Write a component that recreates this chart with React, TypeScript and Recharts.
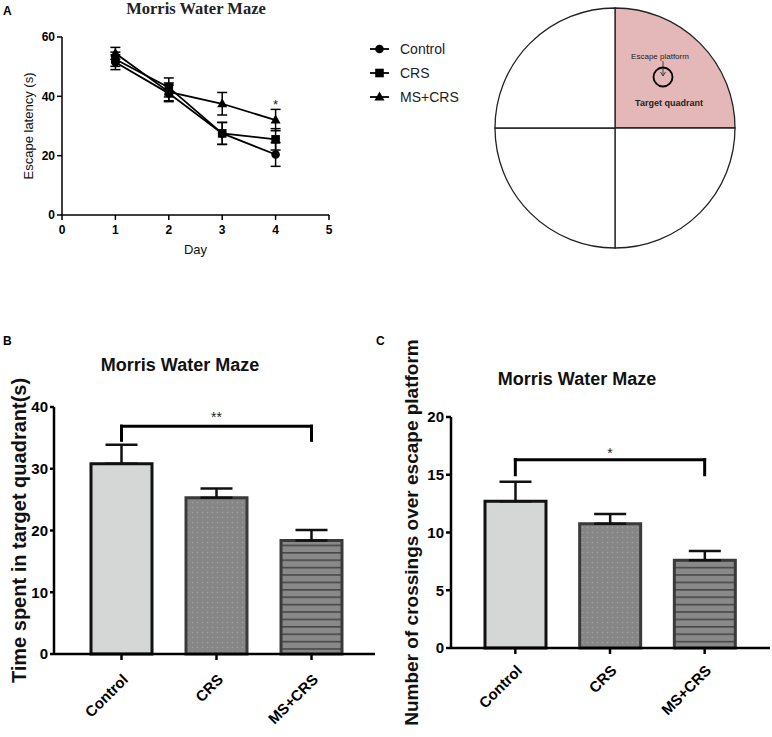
import React from 'react';
import {
  LineChart,
  Line,
  XAxis,
  YAxis,
  ErrorBar,
  Legend,
  ReferenceDot,
  ReferenceLine,
  PieChart,
  Pie,
  Cell,
  BarChart,
  Bar,
} from 'recharts';

// Panel A: escape latency (s) per training day, mean and SEM
const days = [1, 2, 3, 4];
const controlLatency = [51.5, 41, 27.5, 20.4];
const controlSem = [2.5, 2.8, 3.7, 4.0];
const crsLatency = [52.5, 43, 27.5, 25.5];
const crsSem = [2.4, 3.2, 3.7, 3.6];
const msCrsLatency = [54.5, 41.5, 37.5, 32];
const msCrsSem = [2.0, 3.0, 3.8, 3.6];
const dayTicks = [0, 1, 2, 3, 4, 5];
const latencyTicks = [0, 20, 40, 60];
const seriesOrder = ['control', 'crs', 'msCrs'];

// Pool diagram, clockwise from the top-right quadrant
const quadrants = ['Target quadrant', 'Quadrant 2', 'Quadrant 3', 'Quadrant 4'];
const quadrantFills = ['#e4b8b8', '#ffffff', '#ffffff', '#ffffff'];

// Panels B and C: probe trial
const groups = ['Control', 'CRS', 'MS+CRS'];
const timeInTarget = [30.8, 25.3, 18.4];
const timeInTargetSem = [3.1, 1.5, 1.7];
const timeTicks = [0, 10, 20, 30, 40];
const crossings = [12.7, 10.75, 7.6];
const crossingsSem = [1.7, 0.85, 0.8];
const crossingTicks = [0, 5, 10, 15, 20];

const barFills = ['#d5d7d7', 'url(#pat-dots)', 'url(#pat-stripes)'];
const barStrokes = ['#111111', '#3a3a3a', '#3a3a3a'];

const font = "'Liberation Sans', Arial, Helvetica, sans-serif";

const latencyData = days.map((d, i) => ({
  day: d,
  control: controlLatency[i],
  controlErr: controlSem[i],
  crs: crsLatency[i],
  crsErr: crsSem[i],
  msCrs: msCrsLatency[i],
  msCrsErr: msCrsSem[i],
}));

const quadrantData = quadrants.map((q) => ({ name: q, value: 1 }));

const marker = (key: string, cx: number, cy: number) => {
  if (key === 'control') return <circle cx={cx} cy={cy} r={4.3} fill="#000" />;
  if (key === 'crs') return <rect x={cx - 4.3} y={cy - 4.3} width={8.6} height={8.6} fill="#000" />;
  return <polygon points={`${cx},${cy - 5.5} ${cx + 5},${cy + 3.5} ${cx - 5},${cy + 3.5}`} fill="#000" />;
};

const dotFor = (key: string) => (p: any) => <g key={`${key}-${p.index}`}>{marker(key, p.cx, p.cy)}</g>;

const renderLegend = ({ payload }: any) => {
  const items = [...(payload || [])].sort(
    (a: any, b: any) => seriesOrder.indexOf(a.dataKey) - seriesOrder.indexOf(b.dataKey)
  );
  return (
    <div>
      {items.map((entry: any) => (
        <div key={entry.value} style={{ display: 'flex', alignItems: 'center', height: 24 }}>
          <svg width={32} height={24}>
            <line x1={2} y1={12} x2={21} y2={12} stroke="#000" strokeWidth={1.8} />
            {marker(entry.dataKey, 11.5, 12)}
          </svg>
          <span style={{ fontSize: 14, color: '#222', fontFamily: font }}>{entry.value}</span>
        </div>
      ))}
    </div>
  );
};

const LatencyPanel = () => (
  <LineChart
    width={470}
    height={265}
    data={latencyData}
    margin={{ top: 37, right: 141, bottom: 0, left: 22 }}
  >
    <XAxis
      dataKey="day"
      type="number"
      domain={[0, 5]}
      ticks={dayTicks}
      height={50}
      stroke="#000"
      strokeWidth={1.5}
      tickSize={5}
      tickMargin={5}
      tick={{ fontSize: 12, fontWeight: 700, fill: '#000' }}
      label={{ value: 'Day', position: 'insideBottom', offset: 11, fontSize: 13, fill: '#111' }}
    />
    <YAxis
      domain={[0, 60]}
      ticks={latencyTicks}
      width={40}
      stroke="#000"
      strokeWidth={1.5}
      tickSize={5}
      tickMargin={2}
      tick={{ fontSize: 12, fontWeight: 700, fill: '#000' }}
      label={{
        value: 'Escape latency (s)',
        angle: -90,
        position: 'insideLeft',
        offset: 6,
        textAnchor: 'middle',
        style: { textAnchor: 'middle' },
        fontSize: 13,
        fill: '#111',
      }}
    />
    <Line dataKey="control" name="Control" stroke="#000" strokeWidth={1.8} dot={dotFor('control')} isAnimationActive={false}>
      <ErrorBar dataKey="controlErr" direction="y" width={5} stroke="#000" strokeWidth={1.5} />
    </Line>
    <Line dataKey="crs" name="CRS" stroke="#000" strokeWidth={1.8} dot={dotFor('crs')} isAnimationActive={false}>
      <ErrorBar dataKey="crsErr" direction="y" width={5} stroke="#000" strokeWidth={1.5} />
    </Line>
    <Line dataKey="msCrs" name="MS+CRS" stroke="#000" strokeWidth={1.8} dot={dotFor('msCrs')} isAnimationActive={false}>
      <ErrorBar dataKey="msCrsErr" direction="y" width={5} stroke="#000" strokeWidth={1.5} />
    </Line>
    <ReferenceDot x={4} y={37.2} r={0} stroke="none" label={{ value: '*', position: 'center', fontSize: 13, fill: '#222' }} />
    <Legend
      layout="vertical"
      align="center"
      verticalAlign="middle"
      content={renderLegend}
      wrapperStyle={{ left: 368, top: 37, width: 110 }}
    />
  </LineChart>
);

const PoolPanel = () => (
  <PieChart width={250} height={250} margin={{ top: 0, right: 0, bottom: 0, left: 0 }}>
    <Pie
      data={quadrantData}
      dataKey="value"
      nameKey="name"
      cx={125}
      cy={125}
      outerRadius={120}
      startAngle={90}
      endAngle={-270}
      stroke="#222"
      strokeWidth={1.3}
      isAnimationActive={false}
    >
      {quadrantData.map((q, i) => (
        <Cell key={q.name} fill={quadrantFills[i]} />
      ))}
    </Pie>
  </PieChart>
);

interface BarPanelProps {
  values: number[];
  sems: number[];
  ticks: number[];
  yLabel: string;
  yLabelSize: number;
  sigTop: number;
  sigLeg: number;
  sigY: number;
  sigText: string;
  width: number;
  margin: { top: number; right: number; bottom: number; left: number };
  xHeight: number;
  xTickMargin: number;
  yWidth: number;
  labelOffset: number;
  padding: { left: number; right: number };
  yTickSize: number;
}

const BarPanel = (p: BarPanelProps) => {
  const data = groups.map((g, i) => ({ group: g, value: p.values[i], err: [0, p.sems[i]] }));
  const max = p.ticks[p.ticks.length - 1];
  const bracket = { stroke: '#000', strokeWidth: 3, strokeLinecap: 'square' as const };
  return (
    <BarChart width={p.width} height={407} data={data} margin={p.margin}>
      <defs>
        <pattern id="pat-dots" width={5} height={5} patternUnits="userSpaceOnUse">
          <rect width={5} height={5} fill="#868686" />
          <circle cx={2.5} cy={2.5} r={0.8} fill="#a2a2a2" />
        </pattern>
        <pattern id="pat-stripes" width={8} height={7.4} patternUnits="userSpaceOnUse">
          <rect width={8} height={7.4} fill="#898989" />
          <rect y={0} width={8} height={1.6} fill="#474747" />
        </pattern>
      </defs>
      <XAxis
        dataKey="group"
        height={p.xHeight}
        padding={p.padding}
        stroke="#000"
        strokeWidth={2.5}
        tickSize={6}
        tickMargin={p.xTickMargin}
        angle={-45}
        interval={0}
        tick={{ fontSize: 15, fontWeight: 700, fill: '#000', textAnchor: 'end', angle: -45 }}
      />
      <YAxis
        domain={[0, max]}
        ticks={p.ticks}
        width={p.yWidth}
        stroke="#000"
        strokeWidth={2.5}
        tickSize={p.yTickSize}
        tickMargin={2}
        tick={{ fontSize: 15, fontWeight: 700, fill: '#000' }}
        label={{
          value: p.yLabel,
          angle: -90,
          position: 'insideLeft',
          offset: p.labelOffset,
          textAnchor: 'middle',
          style: { textAnchor: 'middle' },
          fontSize: p.yLabelSize,
          fontWeight: 700,
          fill: '#111',
        }}
      />
      <Bar dataKey="value" barSize={61} isAnimationActive={false}>
        {data.map((d, i) => (
          <Cell key={d.group} fill={barFills[i]} stroke={barStrokes[i]} strokeWidth={3} />
        ))}
        <ErrorBar dataKey="err" direction="y" width={16} stroke="#111" strokeWidth={2.5} />
      </Bar>
      <ReferenceLine segment={[{ x: groups[0], y: p.sigTop }, { x: groups[2], y: p.sigTop }]} {...bracket} />
      <ReferenceLine segment={[{ x: groups[0], y: p.sigTop }, { x: groups[0], y: p.sigLeg }]} {...bracket} />
      <ReferenceLine segment={[{ x: groups[2], y: p.sigTop }, { x: groups[2], y: p.sigLeg }]} {...bracket} />
      <ReferenceDot
        x={groups[1]}
        y={p.sigY}
        r={0}
        stroke="none"
        label={{ value: p.sigText, position: 'center', fontSize: 14, fill: '#222' }}
      />
    </BarChart>
  );
};

const Annotations = () => (
  <svg width={772} height={737} style={{ position: 'absolute', left: 0, top: 0, pointerEvents: 'none' }}>
    <g fontFamily={font} fontWeight={700} fontSize={12} fill="#000">
      <text x={3} y={15}>A</text>
      <text x={3} y={345}>B</text>
      <text x={376} y={345}>C</text>
    </g>
    <text x={196} y={14} textAnchor="middle" fontFamily="'Liberation Serif', 'Times New Roman', serif" fontWeight={700} fontSize={16.5} fill="#222">
      Morris Water Maze
    </text>
    <g fontFamily={font} fontWeight={700} fontSize={18} fill="#111" textAnchor="middle">
      <text x={180} y={371}>Morris Water Maze</text>
      <text x={577} y={385}>Morris Water Maze</text>
    </g>
    <g fontFamily={font} fill="#222" textAnchor="middle">
      <text x={660} y={59} fontSize={8}>Escape platform</text>
      <text x={669} y={106} fontSize={9} fontWeight={700}>Target quadrant</text>
    </g>
    <line x1={663} y1={61} x2={663} y2={76} stroke="#333" strokeWidth={0.9} />
    <polyline points="660.5,72 663,76 665.5,72" fill="none" stroke="#333" strokeWidth={0.9} />
    <circle cx={663} cy={77} r={9.5} fill="none" stroke="#000" strokeWidth={1.8} />
  </svg>
);

export default function App() {
  return (
    <div style={{ position: 'absolute', left: 0, top: 0, width: 772, height: 737, background: '#fff', fontFamily: font }}>
      <div style={{ position: 'absolute', left: 0, top: 0 }}>
        <LatencyPanel />
      </div>
      <div style={{ position: 'absolute', left: 490, top: 3 }}>
        <PoolPanel />
      </div>
      <div style={{ position: 'absolute', left: 0, top: 330 }}>
        <BarPanel
          values={timeInTarget}
          sems={timeInTargetSem}
          ticks={timeTicks}
          yLabel="Time spent in target quadrant(s)"
          yLabelSize={20}
          sigTop={36.9}
          sigLeg={34.6}
          sigY={38.3}
          sigText="**"
          width={390}
          margin={{ top: 77, right: 15, bottom: 0, left: 14 }}
          xHeight={83}
          xTickMargin={13}
          yWidth={40}
          labelOffset={5}
          padding={{ left: 20, right: 16 }}
          yTickSize={4}
        />
      </div>
      <div style={{ position: 'absolute', left: 390, top: 330 }}>
        <BarPanel
          values={crossings}
          sems={crossingsSem}
          ticks={crossingTicks}
          yLabel="Number of crossings over escape platform"
          yLabelSize={19}
          sigTop={16.3}
          sigLeg={15.0}
          sigY={16.9}
          sigText="*"
          width={382}
          margin={{ top: 87, right: 2, bottom: 0, left: 16 }}
          xHeight={89}
          xTickMargin={10}
          yWidth={45}
          labelOffset={5}
          padding={{ left: 17, right: 18 }}
          yTickSize={5}
        />
      </div>
      <Annotations />
    </div>
  );
}
